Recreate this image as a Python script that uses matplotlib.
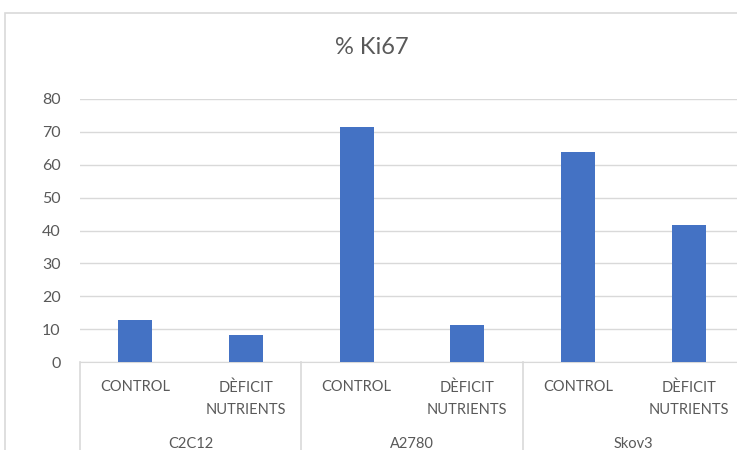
import matplotlib.pyplot as plt
import matplotlib.transforms as mtransforms
from matplotlib.patches import Rectangle

groups = ['C2C12', 'A2780', 'Skov3']
conditions = ['CONTROL', 'DÈFICIT\nNUTRIENTS']
ki67 = [12.8, 8.3, 71.5, 11.2, 64.0, 41.8]

plt.rcParams['font.family'] = ['Lato', 'DejaVu Sans']
grey_text = '#595959'
grid_col = '#d9d9d9'

fig = plt.figure(figsize=(7.37, 4.5), dpi=100)
# outer chart border (cut off right/bottom like the screenshot)
fig.patches.append(Rectangle((5 / 737, -0.1), 1.0, (450 - 13) / 450 + 0.1,
                             transform=fig.transFigure, fill=False,
                             edgecolor=grid_col, linewidth=1.2))

ax = fig.add_axes([80 / 737, (450 - 362) / 450, 664 / 737, 263 / 450])

labels = [c for g in groups for c in conditions]
x = list(range(len(labels)))
ax.bar(x, ki67, width=0.31, color='#4472C4', zorder=3)

ax.set_xlim(-0.5, len(labels) - 0.5)
ax.set_ylim(0, 80)
ax.set_yticks(range(0, 81, 10))
ax.grid(axis='y', color=grid_col, linewidth=1, zorder=0)
for s in ['top', 'right', 'left']:
    ax.spines[s].set_visible(False)
ax.spines['bottom'].set_color(grid_col)
ax.tick_params(axis='y', length=0, pad=14, labelsize=11.5, labelcolor=grey_text)
ax.tick_params(axis='x', length=0, pad=13, labelsize=10.5, labelcolor=grey_text)
ax.set_xticks(x)
ax.set_xticklabels(labels, va='top', linespacing=1.75)

trans = mtransforms.blended_transform_factory(ax.transData, ax.transAxes)
for i in range(len(groups) + 1):
    xs = i * len(conditions) - 0.5
    ax.plot([xs, xs], [0, -0.4], color=grid_col, linewidth=1.2,
            transform=trans, clip_on=False)
for i, g in enumerate(groups):
    xc = i * len(conditions) + (len(conditions) - 1) / 2
    ax.text(xc, -0.31, g, transform=trans, ha='center', va='center',
            fontsize=10.5, color=grey_text)

fig.text(372 / 737, (450 - 47) / 450, '% Ki67', ha='center', va='center',
         fontsize=17, color=grey_text)

fig.savefig('out.png', dpi=100)
